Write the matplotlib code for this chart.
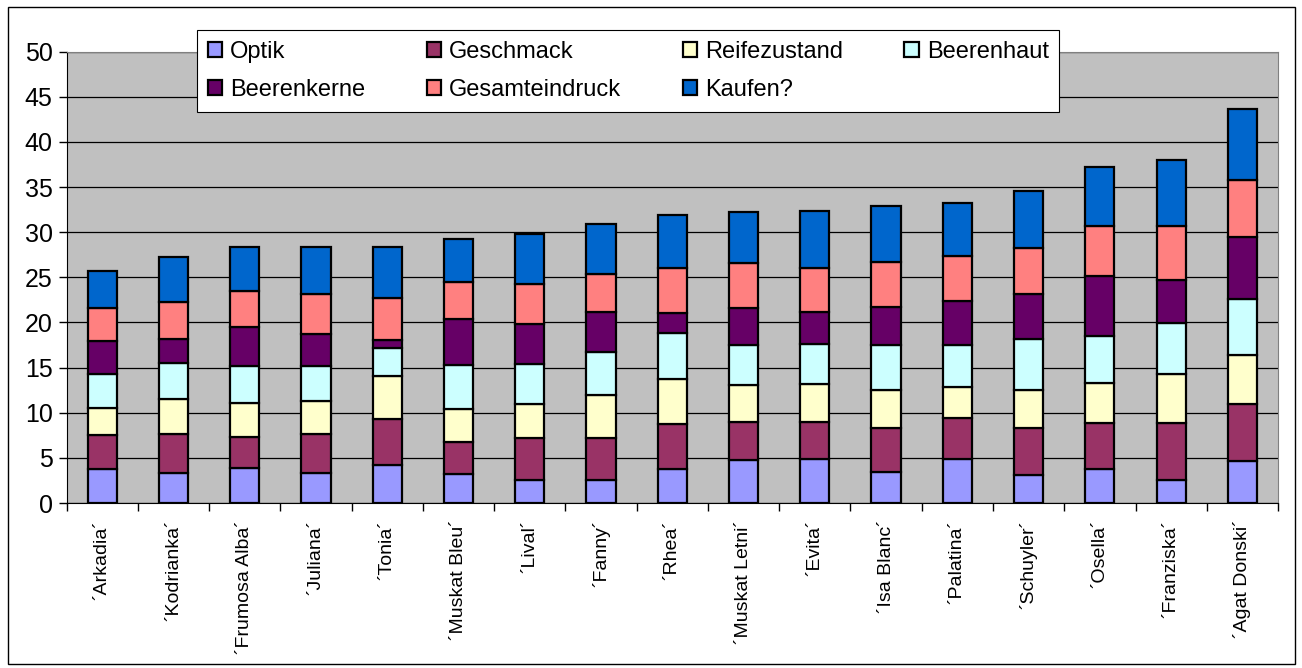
"""
Stacked bar chart of grape variety tasting scores
"""

### Import modules
import numpy as np
import matplotlib
matplotlib.use('Agg')
import matplotlib.pyplot as plt
from matplotlib.patches import Rectangle

## Data
varieties = ['´Arkadia´', '´Kodrianka´', '´Frumosa Alba´', '´Juliana´', '´Tonia´',
             '´Muskat Bleu´', '´Lival´', '´Fanny´', '´Rhea´', '´Muskat Letni´',
             '´Evita´', '´Isa Blanc´', '´Palatina´', '´Schuyler´', '´Osella´',
             '´Franziska´', '´Agat Donski´']

optik = [3.8, 3.3, 3.9, 3.3, 4.2, 3.25, 2.5, 2.5, 3.8, 4.8, 4.9, 3.45, 4.85, 3.1, 3.75, 2.5, 4.65]
geschmack = [3.75, 4.4, 3.45, 4.4, 5.1, 3.5, 4.7, 4.65, 4.95, 4.2, 4.1, 4.85, 4.55, 5.2, 5.1, 6.35, 6.3]
reifezustand = [3.0, 3.85, 3.75, 3.6, 4.8, 3.65, 3.75, 4.8, 4.95, 4.1, 4.15, 4.2, 3.5, 4.25, 4.45, 5.45, 5.45]
beerenhaut = [3.75, 3.95, 4.1, 3.9, 3.05, 4.85, 4.45, 4.8, 5.1, 4.4, 4.45, 5.0, 4.6, 5.65, 5.25, 5.6, 6.2]
beerenkerne = [3.7, 2.7, 4.35, 3.5, 0.9, 5.1, 4.4, 4.4, 2.3, 4.1, 3.55, 4.2, 4.85, 4.95, 6.65, 4.8, 6.9]
gesamteindruck = [3.65, 4.05, 3.95, 4.5, 4.65, 4.1, 4.5, 4.25, 4.9, 4.95, 4.85, 4.95, 5.05, 5.1, 5.45, 5.95, 6.25]
kaufen = [4.1, 4.95, 4.9, 5.15, 5.7, 4.85, 5.5, 5.5, 5.9, 5.65, 6.3, 6.25, 5.8, 6.35, 6.55, 7.3, 7.95]

series_names = ['Optik', 'Geschmack', 'Reifezustand', 'Beerenhaut',
                'Beerenkerne', 'Gesamteindruck', 'Kaufen?']
series_values = [optik, geschmack, reifezustand, beerenhaut,
                 beerenkerne, gesamteindruck, kaufen]
colors = ['#9999FF', '#993366', '#FFFFCC', '#CCFFFF', '#660066', '#FF8080', '#0066CC']

plt.rcParams['font.family'] = ['Liberation Sans', 'DejaVu Sans']

### Plot figure
fig = plt.figure(figsize=(13.02, 6.68), dpi=100)
ax = fig.add_axes([0.0511, 0.247, 0.9305, 0.6756])
ax.set_facecolor('#C0C0C0')

x = np.arange(len(varieties))
bottom = np.zeros(len(varieties))
handles = []
for name, vals, col in zip(series_names, series_values, colors):
    b = ax.bar(x, vals, width=0.41, bottom=bottom, color=col,
               edgecolor='black', linewidth=1.6, label=name, zorder=3)
    handles.append(b)
    bottom += np.array(vals)

# Axes and grid
ax.set_ylim(0, 50)
ax.set_xlim(-0.5, len(varieties) - 0.5)
ax.set_yticks(np.arange(0, 51, 5))
ax.yaxis.grid(True, color='black', linewidth=0.9, zorder=0)
ax.set_axisbelow(True)
ax.tick_params(axis='y', labelsize=18, length=6, width=1, direction='out', pad=4)

ax.set_xticks(x)
ax.set_xticklabels(varieties, rotation=90, fontsize=14, va='top', ha='center')
ax.set_xticks(np.arange(-0.5, len(varieties), 1), minor=True)
ax.tick_params(axis='x', which='major', length=0, pad=12)
ax.tick_params(axis='x', which='minor', length=6, width=1, direction='out')

for side in ['top', 'right']:
    ax.spines[side].set_color('#808080')
ax.spines['left'].set_color('black')
ax.spines['bottom'].set_color('black')

# Legend, row-major order across four columns
order = [0, 4, 1, 5, 2, 6, 3]
leg = ax.legend([handles[i] for i in order], [series_names[i] for i in order],
                ncol=4, loc='upper left', bbox_to_anchor=(0.1077, 1.048),
                fontsize=17, frameon=True, fancybox=False, framealpha=1,
                edgecolor='black', handlelength=0.6, handleheight=0.6,
                handletextpad=0.35, columnspacing=2.6, borderpad=0.45,
                labelspacing=0.7, borderaxespad=0)
leg.get_frame().set_linewidth(0.8)
leg.set_zorder(5)

# Outer chart border
fig.patches.append(Rectangle((0.006, 0.006), 0.989, 0.983, transform=fig.transFigure,
                             fill=False, edgecolor='black', linewidth=1))

plt.savefig('out.png', dpi=100)
